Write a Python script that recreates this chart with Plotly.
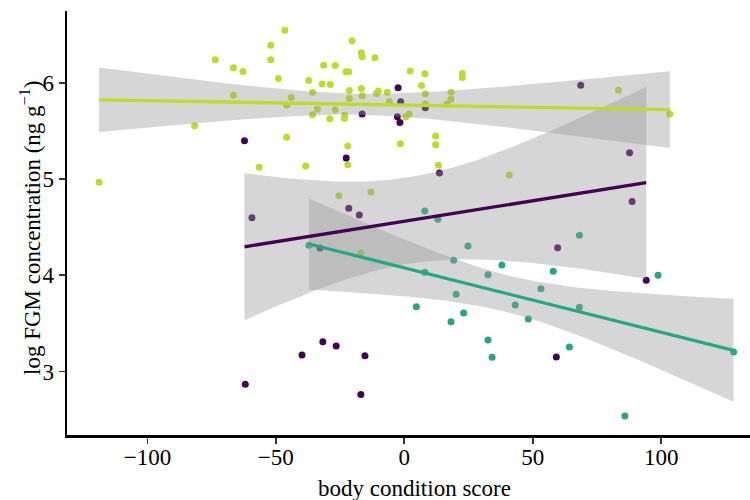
import numpy as np
import plotly.graph_objects as go

# ---- data ----
yellow_x = [-46.5, -52.0, -20.3, -73.6, -52.0, -66.5, -62.8, -16.7, -16.4, -11.4,
            -31.4, -26.9, -22.7, -21.6, 2.3, -49.0, -37.2, -32.0, -28.8, -35.7,
            -21.4, -16.7, -10.9, -10.1, -6.6, -66.5, -44.0, -45.8, -21.4, -16.4,
            -5.8, -33.8, -26.9, -35.7, -23.2, -29.0, -23.3, 0.6, 1.9, -81.6,
            -45.8, -22.0, -1.5, -56.5, -38.4, -22.0, -118.8, -25.4, -13.0, 8.0,
            22.6, 22.6, 6.7, 8.2, 18.2, 18.2, 16.6, 8.2, 12.2, 12.2,
            13.3, 40.9, 83.4, 103.4, -16.9]
yellow_y = [6.551, 6.395, 6.440, 6.242, 6.242, 6.159, 6.122, 6.315, 6.273, 6.263,
            6.187, 6.184, 6.117, 6.117, 6.125, 6.049, 6.028, 5.990, 5.986, 5.906,
            5.924, 5.945, 5.893, 5.917, 5.906, 5.875, 5.851, 5.771, 5.841, 5.868,
            5.806, 5.727, 5.722, 5.670, 5.667, 5.629, 5.633, 5.650, 5.678, 5.556,
            5.436, 5.345, 5.369, 5.124, 5.137, 5.151, 4.968, 4.828, 4.867, 6.097,
            6.101, 6.059, 5.976, 5.889, 5.906, 5.831, 5.782, 5.782, 5.449, 5.359,
            5.145, 5.044, 5.927, 5.678, 4.236]

purple_x = [-2.4, -1.4, -16.4, -2.7, -1.7, -62.2, -22.6, -59.3, -21.6, -17.5,
            8.2, 68.7, 87.7, 13.7, 88.7, 59.7, -32.8, -31.7, -26.5, -39.8,
            -15.3, -61.9, -16.9, 94.2, 59.2]
purple_y = [5.953, 5.806, 5.678, 5.650, 5.589, 5.400, 5.220, 4.600, 4.698, 4.628,
            5.745, 5.979, 5.275, 5.064, 4.768, 4.288, 4.285, 3.311, 3.266, 3.173,
            3.165, 2.868, 2.760, 3.949, 3.152]

green_x = [-37.1, 8.0, 13.1, 24.8, 68.2, 19.2, 38.0, 58.0, 8.0, 32.6,
           53.2, 20.2, 98.8, 4.7, 43.2, 68.2, 23.1, 18.2, 48.3, 32.6,
           34.2, 64.3, 128.2, 85.9]
green_y = [4.313, 4.669, 4.583, 4.306, 4.417, 4.157, 4.108, 4.043, 4.032, 4.007,
           3.862, 3.804, 4.001, 3.675, 3.692, 3.668, 3.609, 3.519, 3.547, 3.328,
           3.149, 3.256, 3.204, 2.538]

x_ticks = [-100, -50, 0, 50, 100]
x_tick_text = ["\u2212100", "\u221250", "0", "50", "100"]
y_ticks = [3, 4, 5, 6]

PURPLE = "#440154"
GREEN = "#22A884"
YELLOW = "#BADE28"
FONT = "Liberation Serif"
FS = 23


def t_quantile(df, z=1.959964):
    # Cornish-Fisher expansion of the Student t 97.5% quantile
    return (z + (z**3 + z) / (4 * df)
            + (5 * z**5 + 16 * z**3 + 3 * z) / (96 * df**2)
            + (3 * z**7 + 19 * z**5 + 17 * z**3 - 15 * z) / (384 * df**3))


def lm_band(x, y, n=100):
    x = np.asarray(x, float)
    y = np.asarray(y, float)
    m = len(x)
    slope, intercept = np.polyfit(x, y, 1)
    resid = y - (intercept + slope * x)
    s = np.sqrt(np.sum(resid**2) / (m - 2))
    xm = x.mean()
    sxx = np.sum((x - xm) ** 2)
    grid = np.linspace(x.min(), x.max(), n)
    fit = intercept + slope * grid
    se = s * np.sqrt(1.0 / m + (grid - xm) ** 2 / sxx)
    t = t_quantile(m - 2)
    return grid, fit, fit - t * se, fit + t * se


groups = [
    ("yellow", yellow_x, yellow_y, YELLOW),
    ("purple", purple_x, purple_y, PURPLE),
    ("green", green_x, green_y, GREEN),
]

fig = go.Figure()

for name, xs, ys, col in groups:
    fig.add_trace(go.Scatter(x=xs, y=ys, mode="markers",
                             marker=dict(color=col, size=7, line=dict(width=0)),
                             showlegend=False, hoverinfo="skip"))

fits = {}
for name, xs, ys, col in groups:
    g, f, lo, hi = lm_band(xs, ys)
    fits[name] = (g, f)
    fig.add_trace(go.Scatter(x=np.concatenate([g, g[::-1]]),
                             y=np.concatenate([hi, lo[::-1]]),
                             mode="lines", fill="toself",
                             fillcolor="rgba(153,153,153,0.4)",
                             line=dict(width=0), showlegend=False,
                             hoverinfo="skip"))

for name, xs, ys, col in groups:
    g, f = fits[name]
    fig.add_trace(go.Scatter(x=g, y=f, mode="lines",
                             line=dict(color=col, width=3.3),
                             showlegend=False, hoverinfo="skip"))

axis_common = dict(showgrid=False, zeroline=False, showline=True,
                   linecolor="black", linewidth=2.5, ticks="outside",
                   ticklen=6, tickwidth=1.8, tickcolor="#333333",
                   tickfont=dict(family=FONT, size=FS, color="black"))

fig.update_xaxes(range=[-131.3, 134.6], tickvals=x_ticks,
                 ticktext=x_tick_text, ticklabelstandoff=-6, **axis_common)
fig.update_yaxes(range=[2.34, 6.75], tickvals=y_ticks, **axis_common)

L, T, B = 67, 11, 65
PW, PH = 750 - L, 500 - T - B

fig.update_layout(
    width=750, height=500,
    margin=dict(l=L, r=0, t=T, b=B, pad=0),
    plot_bgcolor="white", paper_bgcolor="white",
    font=dict(family=FONT, size=FS, color="black"),
    annotations=[
        dict(text="body condition score", xref="paper", yref="paper",
             x=(414 - L) / PW, y=-(488 - (T + PH)) / PH,
             xanchor="center", yanchor="middle",
             showarrow=False, font=dict(family=FONT, size=FS, color="black")),
        dict(text="log FGM concentration (ng g<sup>\u22121</sup>)", xref="paper",
             yref="paper", x=-(L - 30) / PW, y=(T + PH - 228) / PH, textangle=-90,
             xanchor="center", yanchor="middle", showarrow=False,
             font=dict(family=FONT, size=FS, color="black")),
    ],
)

fig.write_html("out.html",
               config={"displayModeBar": False, "staticPlot": True},
               post_script="document.body.style.margin='0';"
                           "document.body.style.overflow='hidden';")
